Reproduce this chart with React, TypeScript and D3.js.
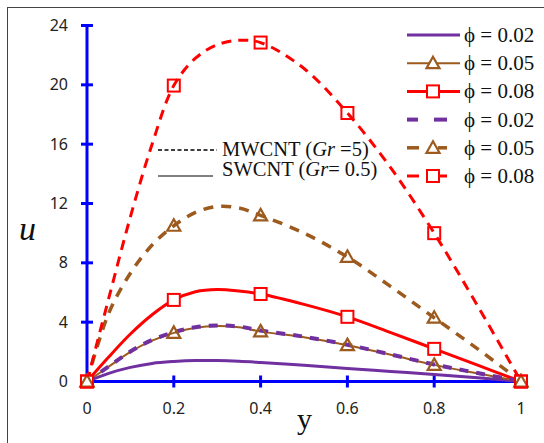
import React from "react";
import * as d3 from "d3";

const yPos = [0, 0.05, 0.1, 0.15, 0.2, 0.25, 0.3, 0.35, 0.4, 0.5, 0.6, 0.7, 0.8, 0.9, 1];
const swPhi002 = [0, 0.55, 0.95, 1.22, 1.35, 1.42, 1.41, 1.36, 1.28, 1.1, 0.88, 0.68, 0.48, 0.25, 0];
const swPhi005 = [0, 1.0, 2.0, 2.75, 3.28, 3.62, 3.74, 3.65, 3.38, 2.98, 2.45, 1.8, 1.12, 0.55, 0];
const swPhi008 = [0, 1.65, 3.2, 4.5, 5.5, 6.05, 6.2, 6.1, 5.9, 5.2, 4.36, 3.3, 2.2, 1.1, 0];
const mwPhi002 = [0, 1.02, 2.02, 2.8, 3.32, 3.66, 3.78, 3.7, 3.44, 3.02, 2.48, 1.82, 1.15, 0.57, 0];
const mwPhi005 = [0, 4.6, 7.3, 9.2, 10.5, 11.4, 11.8, 11.7, 11.2, 10.0, 8.4, 6.4, 4.3, 2.2, 0];
const mwPhi008 = [0, 5.6, 11.1, 16.0, 19.95, 21.8, 22.7, 23.0, 22.85, 21.1, 18.1, 14.4, 10.0, 5.1, 0];

const markerX = [0, 0.2, 0.4, 0.6, 0.8, 1];
const xTicks = [0, 0.2, 0.4, 0.6, 0.8, 1];
const xTickLabels = ["0", "0.2", "0.4", "0.6", "0.8", "1"];
const yTicks = [0, 4, 8, 12, 16, 20, 24];
const legendLabels = ["ϕ = 0.02", "ϕ = 0.05", "ϕ = 0.08", "ϕ = 0.02", "ϕ = 0.05", "ϕ = 0.08"];

const PURPLE = "#7030A0";
const BROWN = "#9C5A1E";
const RED = "#FF0000";
const BLUE = "#0000FF";

type Series = {
  values: number[];
  color: string;
  width: number;
  dash: string | null;
  marker: "none" | "triangle" | "square";
  fill: string;
};

const series: Series[] = [
  { values: swPhi002, color: PURPLE, width: 3, dash: null, marker: "none", fill: "white" },
  { values: swPhi005, color: BROWN, width: 2, dash: null, marker: "triangle", fill: "none" },
  { values: swPhi008, color: RED, width: 3, dash: null, marker: "square", fill: "white" },
  { values: mwPhi002, color: PURPLE, width: 4, dash: "9,8", marker: "none", fill: "none" },
  { values: mwPhi005, color: BROWN, width: 3.5, dash: "10,8", marker: "triangle", fill: "none" },
  { values: mwPhi008, color: RED, width: 3, dash: "10,7", marker: "square", fill: "none" },
];

function Marker({ kind, x, y, color, fill }: { kind: string; x: number; y: number; color: string; fill: string }) {
  if (kind === "square") {
    return <rect x={x - 6} y={y - 6} width={12} height={12} fill={fill} stroke={color} strokeWidth={2} />;
  }
  if (kind === "triangle") {
    return (
      <path
        d={`M${x},${y - 6.5} L${x + 6.5},${y + 5} L${x - 6.5},${y + 5} Z`}
        fill={fill}
        stroke={color}
        strokeWidth={2.2}
      />
    );
  }
  return null;
}

export default function App() {
  const W = 544;
  const H = 443;
  const x = d3.scaleLinear().domain([0, 1]).range([87, 521]);
  const y = d3.scaleLinear().domain([0, 24]).range([381.5, 25.5]);

  const line = d3
    .line<number>()
    .x((_, i) => x(yPos[i]))
    .y((d) => y(d))
    .curve(d3.curveCatmullRom.alpha(0.5));

  const valueAt = (vals: number[], xv: number) => {
    const i = yPos.findIndex((p) => Math.abs(p - xv) < 1e-9);
    return vals[i];
  };

  const legendY0 = 35;
  const legendDy = 28.2;

  return (
    <svg width={W} height={H} style={{ position: "absolute", left: 0, top: 0, background: "white" }}>
      {/* frame */}
      <line x1={7} y1={7.5} x2={W} y2={7.5} stroke="#444" strokeWidth={1} />
      <line x1={7.5} y1={7} x2={7.5} y2={H} stroke="#444" strokeWidth={1} />

      {/* axes */}
      <line x1={x(0)} y1={y(0)} x2={x(1)} y2={y(0)} stroke={BLUE} strokeWidth={3} />
      <line x1={x(0)} y1={y(0)} x2={x(0)} y2={y(24)} stroke={BLUE} strokeWidth={3} />
      {yTicks.map((t) => (
        <g key={"yt" + t}>
          {t !== 0 && <line x1={x(0) - 6} x2={x(0) + 6} y1={y(t)} y2={y(t)} stroke={BLUE} strokeWidth={3} />}
          <text
            x={68}
            y={y(t)}
            dy="0.35em"
            textAnchor="end"
            fontFamily="'Noto Sans', sans-serif"
            fontSize={16}
            fill="#222"
          >
            {t}
          </text>
        </g>
      ))}
      {xTicks.map((t, i) => (
        <g key={"xt" + t}>
          {t !== 0 && <line x1={x(t)} x2={x(t)} y1={y(0) - 6} y2={y(0) + 6} stroke={BLUE} strokeWidth={3} />}
          <text
            x={x(t)}
            y={414}
            textAnchor="middle"
            fontFamily="'Noto Sans', sans-serif"
            fontSize={16}
            fill="#222"
          >
            {xTickLabels[i]}
          </text>
        </g>
      ))}

      {/* axis titles */}
      <text x={19} y={240} fontFamily="'Liberation Serif', serif" fontStyle="italic" fontSize={34} fill="#111">
        u
      </text>
      <text x={297} y={429} fontFamily="'Liberation Serif', serif" fontSize={30} fill="#111">
        y
      </text>

      {/* lines */}
      {series.map((s, i) => (
        <path
          key={"l" + i}
          d={line(s.values) || ""}
          fill="none"
          stroke={s.color}
          strokeWidth={s.width}
          strokeDasharray={s.dash || undefined}
        />
      ))}

      {/* markers */}
      {series.map((s, i) =>
        s.marker === "none"
          ? null
          : markerX.map((mx) => (
              <Marker
                key={"m" + i + "-" + mx}
                kind={s.marker}
                x={x(mx)}
                y={y(valueAt(s.values, mx))}
                color={s.color}
                fill={s.fill}
              />
            ))
      )}

      {/* legend */}
      {series.map((s, i) => {
        const ly = legendY0 + i * legendDy;
        const dashed = !!s.dash;
        return (
          <g key={"lg" + i}>
            {!dashed && <line x1={407} x2={460} y1={ly} y2={ly} stroke={s.color} strokeWidth={s.width} />}
            {dashed && s.marker === "none" && (
              <>
                <line x1={407} x2={418} y1={ly} y2={ly} stroke={s.color} strokeWidth={s.width} />
                <line x1={434} x2={447} y1={ly} y2={ly} stroke={s.color} strokeWidth={s.width} />
              </>
            )}
            {dashed && s.marker !== "none" && (
              <>
                <line x1={407} x2={419} y1={ly} y2={ly} stroke={s.color} strokeWidth={s.width} />
                <line x1={438} x2={447} y1={ly} y2={ly} stroke={s.color} strokeWidth={s.width} />
              </>
            )}
            {s.marker !== "none" && <Marker kind={s.marker} x={433} y={ly} color={s.color} fill="white" />}
            <text x={464} y={ly} dy="0.33em" fontFamily="'Liberation Serif', serif" fontSize={21} fill="#111">
              {legendLabels[i]}
            </text>
          </g>
        );
      })}

      {/* annotation */}
      <line x1={158} x2={217} y1={150} y2={150} stroke="#000" strokeWidth={1.5} strokeDasharray="4,2.5" />
      <text x={222} y={156} fontFamily="'Liberation Serif', serif" fontSize={20.5} fill="#111">
        MWCNT (<tspan fontStyle="italic">Gr</tspan> =5)
      </text>
      <line x1={158} x2={213} y1={176} y2={176} stroke="#000" strokeWidth={1} />
      <text x={222} y={176} fontFamily="'Liberation Serif', serif" fontSize={20.5} fill="#111">
        SWCNT (<tspan fontStyle="italic">Gr</tspan>= 0.5)
      </text>
    </svg>
  );
}
